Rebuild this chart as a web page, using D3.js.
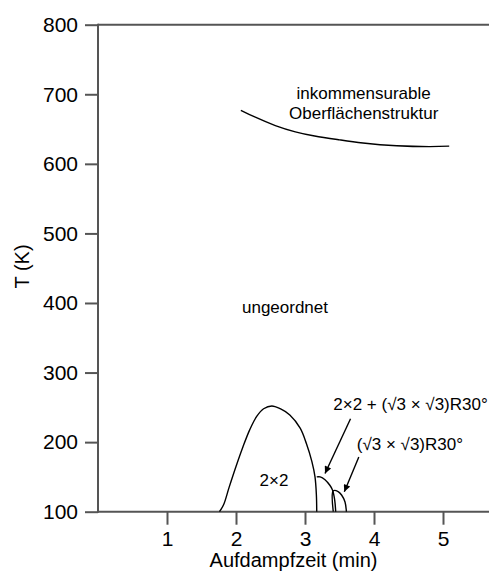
<!DOCTYPE html>
<html>
<head>
<meta charset="utf-8">
<script src="https://cdn.jsdelivr.net/npm/d3@7"></script>
<style>
    body { margin: 0; background: #fff; }
    svg { display: block; font-family: "Liberation Sans", Arial, sans-serif; }
</style>
</head>
<body>
<svg id="chart" width="489" height="576"></svg>
<script>
// tick values
const xTicks = [1, 2, 3, 4, 5];
const yTicks = [100, 200, 300, 400, 500, 600, 700, 800];

// incommensurate structure boundary (time in min, T in K)
const incommX = [2.07, 2.28, 2.57, 2.86, 3.14, 3.5, 3.84, 4.33, 4.81, 5.09];
const incommT = [677, 667, 655, 646, 640, 634.5, 630, 626, 624.8, 625.4];

// 2x2 phase dome
const dome2x2X = [1.76, 1.82, 1.90, 2.00, 2.10, 2.20, 2.30, 2.40, 2.52, 2.64, 2.78, 2.93, 3.02, 3.10, 3.145, 3.165, 3.17];
const dome2x2T = [100, 110, 135, 165, 193, 218, 237, 248, 252, 248, 239, 220, 198, 172, 150, 124, 100];

// 2x2 + (sqrt3 x sqrt3)R30 dome
const domeMixX = [3.17, 3.22, 3.29, 3.36, 3.40, 3.43, 3.445];
const domeMixT = [150, 150, 146, 138, 131, 117, 100];

// (sqrt3 x sqrt3)R30 dome
const domeSqrtX = [3.41, 3.41, 3.48, 3.53, 3.58, 3.60];
const domeSqrtT = [100, 130, 129, 124, 114, 100];

const cfg = {
    left: 98,
    right: 489,
    top: 24.7,
    bottom: 511.7,
    tickSize: 13,
    axisColor: "#555",
    tickFont: 21,
    font: 20,
    labelFont: 17,
};

const svg = d3.select("#chart");

const x = d3.scaleLinear()
    .domain([0, (cfg.right - cfg.left) / 69])
    .range([cfg.left, cfg.right]);
const y = d3.scaleLinear()
    .domain([100, 800])
    .range([cfg.bottom, cfg.top]);

function zipPts(xs, ts) {
    return xs.map((v, i) => [v, ts[i]]);
}

function drawAxes() {
    var xAxis = d3.axisBottom(x)
        .tickValues(xTicks)
        .tickSize(cfg.tickSize)
        .tickPadding(6)
        .tickFormat(d3.format("d"));
    var yAxis = d3.axisLeft(y)
        .tickValues(yTicks)
        .tickSize(cfg.tickSize)
        .tickPadding(7)
        .tickFormat(d3.format("d"));

    var gx = svg.append("g")
        .attr("transform", "translate(0," + cfg.bottom + ")")
        .call(xAxis);
    var gy = svg.append("g")
        .attr("transform", "translate(" + cfg.left + ",0)")
        .call(yAxis);

    [gx, gy].forEach(g => {
        g.select(".domain").remove();
        g.selectAll(".tick line")
            .attr("stroke", cfg.axisColor)
            .attr("stroke-width", 2);
        g.selectAll(".tick text")
            .attr("fill", "#000")
            .style("font-size", cfg.tickFont + "px")
            .style("font-family", "inherit");
    });

    // axis lines: left, bottom and top frame
    svg.append("line")
        .attr("x1", cfg.left).attr("x2", cfg.left)
        .attr("y1", y(800) - 1).attr("y2", y(100) + 1)
        .attr("stroke", cfg.axisColor).attr("stroke-width", 2);
    svg.append("line")
        .attr("x1", cfg.left).attr("x2", cfg.right)
        .attr("y1", y(100)).attr("y2", y(100))
        .attr("stroke", cfg.axisColor).attr("stroke-width", 2);
    svg.append("line")
        .attr("x1", cfg.left).attr("x2", cfg.right)
        .attr("y1", y(800)).attr("y2", y(800))
        .attr("stroke", cfg.axisColor).attr("stroke-width", 2);

    svg.append("text")
        .attr("x", (cfg.left + cfg.right) / 2)
        .attr("y", 567)
        .attr("text-anchor", "middle")
        .style("font-size", cfg.font + "px")
        .text("Aufdampfzeit (min)");

    svg.append("text")
        .attr("transform", "translate(29,266.5) rotate(-90)")
        .attr("text-anchor", "middle")
        .style("font-size", cfg.font + "px")
        .text("T (K)");
}

function drawCurves() {
    var domeLine = d3.line()
        .x(d => x(d[0]))
        .y(d => y(d[1]))
        .curve(d3.curveCatmullRom.alpha(0.5));
    var smoothLine = d3.line()
        .x(d => x(d[0]))
        .y(d => y(d[1]))
        .curve(d3.curveNatural);

    svg.append("path")
        .attr("d", smoothLine(zipPts(incommX, incommT)))
        .attr("fill", "none")
        .attr("stroke", "#000")
        .attr("stroke-width", 1.4);

    [
        zipPts(dome2x2X, dome2x2T),
        zipPts(domeMixX, domeMixT),
        zipPts(domeSqrtX, domeSqrtT),
    ].forEach(pts => {
        svg.append("path")
            .attr("d", domeLine(pts))
            .attr("fill", "none")
            .attr("stroke", "#000")
            .attr("stroke-width", 1.4);
    });
}

function drawLabels() {
    var labels = [
        { text: "inkommensurable", x: 3.85, t: 693, anchor: "middle" },
        { text: "Oberflächenstruktur", x: 3.85, t: 664, anchor: "middle" },
        { text: "ungeordnet", x: 2.71, t: 386, anchor: "middle" },
        { text: "2×2", x: 2.55, t: 137, anchor: "middle" },
        { text: "2×2 + (√3 × √3)R30°", x: 3.41, t: 246, anchor: "start" },
        { text: "(√3 × √3)R30°", x: 3.75, t: 189, anchor: "start" },
    ];
    svg.append("g")
        .selectAll("text")
        .data(labels)
        .join("text")
        .attr("x", d => x(d.x))
        .attr("y", d => y(d.t))
        .attr("text-anchor", d => d.anchor)
        .style("font-size", cfg.labelFont + "px")
        .text(d => d.text);

    svg.append("defs")
        .append("marker")
        .attr("id", "arrow")
        .attr("viewBox", "0 0 10 10")
        .attr("refX", 10)
        .attr("refY", 5)
        .attr("markerWidth", 12)
        .attr("markerHeight", 7)
        .attr("markerUnits", "userSpaceOnUse")
        .attr("orient", "auto")
        .append("path")
        .attr("d", "M0,0 L10,5 L0,10 z")
        .attr("fill", "#000");

    var arrows = [
        [3.66, 233.5, 3.29, 155],
        [3.78, 178.6, 3.57, 128.7],
    ];
    arrows.forEach(a => {
        svg.append("line")
            .attr("x1", x(a[0])).attr("y1", y(a[1]))
            .attr("x2", x(a[2])).attr("y2", y(a[3]))
            .attr("stroke", "#000")
            .attr("stroke-width", 1.4)
            .attr("marker-end", "url(#arrow)");
    });
}

drawAxes();
drawCurves();
drawLabels();
</script>
</body>
</html>
